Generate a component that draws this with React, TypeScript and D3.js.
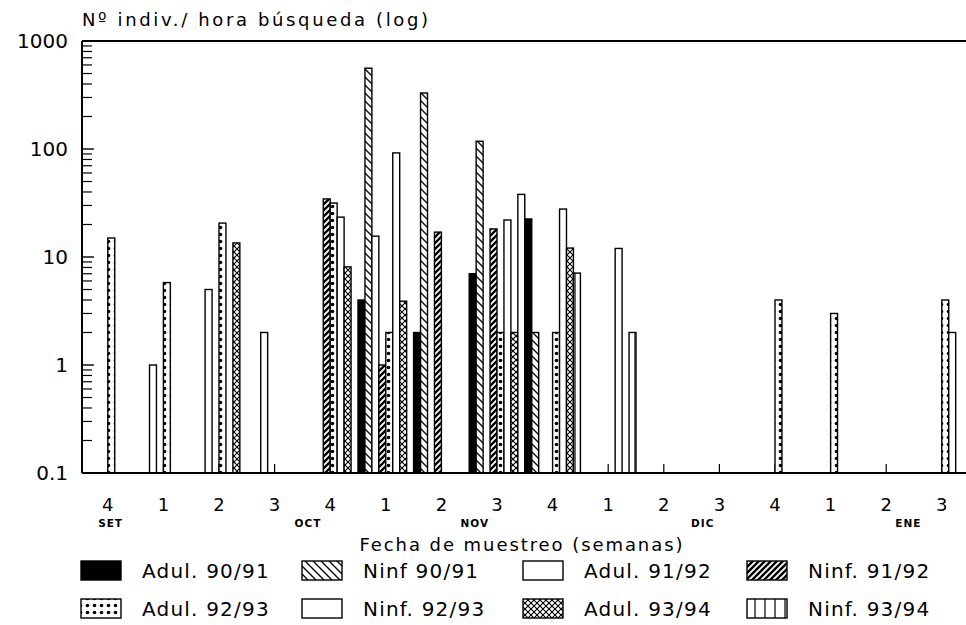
import React from "react";
import * as d3 from "d3";

// ---- data ----
const weeks = ["4", "1", "2", "3", "4", "1", "2", "3", "4", "1", "2", "3", "4", "1", "2", "3"];
const monthNames = ["SET", "OCT", "NOV", "DIC", "ENE"];
const monthAt = [0.05, 3.6, 6.6, 10.7, 14.4]; // location in week units
const seriesNames = [
  "Adul. 90/91",
  "Ninf 90/91",
  "Adul. 91/92",
  "Ninf. 91/92",
  "Adul. 92/93",
  "Ninf. 92/93",
  "Adul. 93/94",
  "Ninf. 93/94",
];
const adul9091 = [0, 0, 0, 0, 0, 4, 2, 7, 22.5, 0, 0, 0, 0, 0, 0, 0];
const ninf9091 = [0, 0, 0, 0, 0, 560, 330, 118, 2, 0, 0, 0, 0, 0, 0, 0];
const adul9192 = [0, 1, 5, 2, 0, 15.6, 0, 0, 0, 0, 0, 0, 0, 0, 0, 0];
const ninf9192 = [0, 0, 0, 0, 34.5, 1, 17, 18.2, 0, 0, 0, 0, 0, 0, 0, 0];
const adul9293 = [15, 5.8, 20.6, 0, 31.6, 2, 0, 2, 2, 0, 0, 0, 4, 3, 0, 4];
const ninf9293 = [0, 0, 0, 0, 23.4, 92, 0, 22, 27.8, 12, 0, 0, 0, 0, 0, 2];
const adul9394 = [0, 0, 13.5, 0, 8.1, 3.9, 0, 2, 12.1, 0, 0, 0, 0, 0, 0, 0];
const ninf9394 = [0, 0, 0, 0, 0, 0, 0, 38, 7.1, 2, 0, 0, 0, 0, 0, 0];
const seriesValues = [adul9091, ninf9091, adul9192, ninf9192, adul9293, ninf9293, adul9394, ninf9394];
const yTickValues = [0.1, 1, 10, 100, 1000];
const yTickLabels = ["0.1", "1", "10", "100", "1000"];

const patternIds = ["solid", "bslash", "white", "fslash", "dots", "white", "cross", "vlines"];

const FONT = "'DejaVu Sans', sans-serif";

export default function App() {
  const W = 966;
  const H = 625;
  const axisX = 82;
  const top = 41;
  const bottom = 473;
  const step = 55.6;

  const x = d3
    .scaleBand<number>()
    .domain(d3.range(weeks.length))
    .range([80, 80 + step * weeks.length])
    .paddingInner(0)
    .paddingOuter(0);
  const inner = d3.scaleBand<number>().domain(d3.range(seriesNames.length)).range([0, x.bandwidth()]);
  const y = d3.scaleLog().domain([0.1, 1000]).range([bottom, top]);
  const monthX = d3.scaleLinear().domain([0, 1]).range([x(0)! + x.bandwidth() / 2, x(1)! + x.bandwidth() / 2]);

  const minorTicks: number[] = [];
  [0.1, 1, 10, 100].forEach((d) => {
    for (let m = 2; m <= 9; m++) minorTicks.push(m * d);
  });

  const fillFor = (k: number) => {
    const p = patternIds[k];
    if (p === "solid") return "#000";
    if (p === "white") return "#fff";
    return `url(#pat-${p})`;
  };

  const legendColX = [81, 302, 523, 747];
  const legendRowY = [561, 599];

  return (
    <svg
      width={W}
      height={H}
      style={{ position: "absolute", left: 0, top: 0, background: "#fff" }}
      fontFamily={FONT}
    >
      <defs>
        <pattern id="pat-bslash" patternUnits="userSpaceOnUse" width="8" height="8">
          <rect width="8" height="8" fill="#fff" />
          <path d="M-2,-2 L10,10 M-2,6 L2,10 M6,-2 L10,2" stroke="#000" strokeWidth="1.3" />
        </pattern>
        <pattern id="pat-fslash" patternUnits="userSpaceOnUse" width="6" height="6">
          <rect width="6" height="6" fill="#fff" />
          <path d="M-1,7 L7,-1 M-2,2 L2,-2 M4,8 L8,4" stroke="#000" strokeWidth="2.4" />
        </pattern>
        <pattern id="pat-dots" patternUnits="userSpaceOnUse" width="7" height="7">
          <rect width="7" height="7" fill="#fff" />
          <circle cx="3.5" cy="3.5" r="1.8" fill="#000" />
        </pattern>
        <pattern id="pat-cross" patternUnits="userSpaceOnUse" width="6" height="6">
          <rect width="6" height="6" fill="#fff" />
          <path d="M0,0 L6,6 M6,0 L0,6" stroke="#000" strokeWidth="1.1" />
        </pattern>
        <pattern id="pat-vlines" patternUnits="userSpaceOnUse" width="10" height="10">
          <rect width="10" height="10" fill="#fff" />
          <path d="M5,0 L5,10" stroke="#000" strokeWidth="1.2" />
        </pattern>
      </defs>

      {/* title */}
      <text x={axisX} y={26} fontSize={18} textLength={346} lengthAdjust="spacing">
        Nº indiv./ hora búsqueda (log)
      </text>

      {/* category center ticks */}
      {weeks.map((w, i) => {
        const cx = x(i)! + x.bandwidth() / 2;
        return <line key={"ct" + i} x1={cx} x2={cx} y1={bottom} y2={bottom - 9} stroke="#000" strokeWidth={1.2} />;
      })}

      {/* bars */}
      {seriesValues.map((vals, k) =>
        vals.map((v, i) => {
          if (!(v > 0.1)) return null;
          const bx = x(i)! + inner(k)!;
          const by = y(v);
          return (
            <rect
              key={`b${k}-${i}`}
              x={bx}
              y={by}
              width={inner.bandwidth()}
              height={bottom - by}
              fill={fillFor(k)}
              stroke="#000"
              strokeWidth={1.4}
            />
          );
        })
      )}

      {/* frame */}
      <line x1={axisX} x2={W} y1={top} y2={top} stroke="#000" strokeWidth={2} />
      <line x1={axisX} x2={W} y1={bottom} y2={bottom} stroke="#000" strokeWidth={2} />
      <line x1={axisX} x2={axisX} y1={top} y2={bottom} stroke="#000" strokeWidth={2} />

      {/* y ticks */}
      {minorTicks.map((t) => (
        <line key={"mt" + t} x1={axisX} x2={axisX + 10} y1={y(t)} y2={y(t)} stroke="#000" strokeWidth={1.2} />
      ))}
      {yTickValues.map((t, i) => (
        <g key={"yt" + t}>
          <line x1={axisX} x2={axisX + 12} y1={y(t)} y2={y(t)} stroke="#000" strokeWidth={1.4} />
          <text x={68} y={y(t)} fontSize={20} textAnchor="end" dominantBaseline="central">
            {yTickLabels[i]}
          </text>
        </g>
      ))}

      {/* x labels */}
      {weeks.map((w, i) => (
        <text key={"xl" + i} x={x(i)! + x.bandwidth() / 2} y={504} fontSize={18} textAnchor="middle" dominantBaseline="central">
          {w}
        </text>
      ))}
      {monthNames.map((m, i) => (
        <text
          key={"m" + m}
          x={monthX(monthAt[i])}
          y={523}
          fontSize={10.5}
          fontWeight="bold"
          textAnchor="middle"
          dominantBaseline="central"
          letterSpacing={1}
        >
          {m}
        </text>
      ))}
      <text x={521} y={544} fontSize={18} textAnchor="middle" dominantBaseline="central" textLength={323} lengthAdjust="spacing">
        Fecha de muestreo (semanas)
      </text>

      {/* legend */}
      {seriesNames.map((name, k) => {
        const col = k % 4;
        const row = Math.floor(k / 4);
        const lx = legendColX[col];
        const ly = legendRowY[row];
        return (
          <g key={"lg" + k}>
            <rect x={lx} y={ly} width={40} height={19} fill={fillFor(k)} stroke="#000" strokeWidth={1.4} />
            <text x={lx + 61} y={ly + 10} fontSize={20} dominantBaseline="central" letterSpacing={1.2}>
              {name}
            </text>
          </g>
        );
      })}
    </svg>
  );
}
